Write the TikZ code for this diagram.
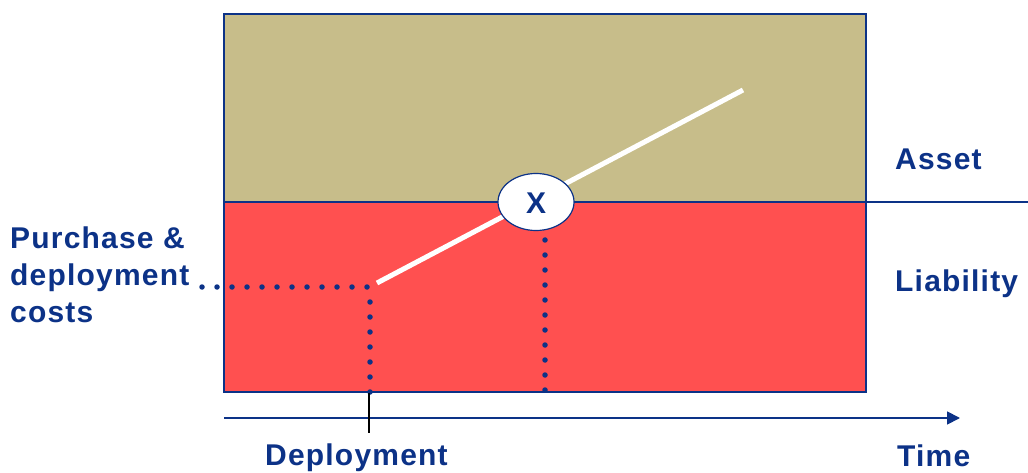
\documentclass[tikz,border=0pt]{standalone}
\usepackage{fontspec}
\setmainfont{Liberation Sans}[LetterSpace=4]
\usetikzlibrary{arrows.meta,shapes.geometric}
\definecolor{navy}{RGB}{12,50,135}
\definecolor{assetc}{RGB}{199,189,138}
\definecolor{liabc}{RGB}{255,80,80}
\tikzset{
  lbl/.style={font=\fontsize{30}{37}\selectfont\bfseries, text=navy, inner sep=0pt},
  box/.style={draw=navy, line width=1.6pt},
  dots/.style={navy, line width=5.5pt, line cap=round, dash pattern=on 0pt off 15pt},
}
\begin{document}
\begin{tikzpicture}[x=1pt,y=-1pt]
\useasboundingbox (0,0) rectangle (1028,473);
% regions
\fill[assetc] (224,14) rectangle (866,202);
\fill[liabc] (224,202) rectangle (866,392);
\draw[box] (224,14) rectangle (866,392);
\coordinate (mL) at (224,202);
\coordinate (mR) at (1028,202);
\draw[box] (mL) -- (mR);
% dotted guides
\coordinate (pL) at (202,287);
\coordinate (pC) at (370,287);
\coordinate (pB) at (370,392);
\draw[dots] (pL) -- (pC);
\draw[dots] (370,302) -- (pB);
% value line
\coordinate (s) at (377,283);
\coordinate (e) at (743,90);
\draw[white, line width=5pt] (s) -- (e);
% X ellipse
\node[draw=navy, fill=white, ellipse, minimum width=76pt, minimum height=57pt, inner sep=0pt, line width=1.2pt] (X) at (536,202) {};
\node[lbl] (Xt) at (536,203) {X};
\coordinate (vT) at (545,240);
\coordinate (vB) at (545,392);
\draw[dots] (vT) -- (vB);
% time axis
\coordinate (a0) at (224,418);
\coordinate (a1) at (960,418);
\draw[navy, line width=1.8pt, -{Triangle[length=13pt,width=13pt]}] (a0) -- (a1);
\coordinate (t0) at (369,393);
\coordinate (t1) at (369,433);
\draw[black, line width=1.2pt] (t0) -- (t1);
% labels
\node[lbl, anchor=base west] (asset) at (895,170) {Asset};
\node[lbl, anchor=base west] (liab) at (895,291) {Liability};
\node[lbl, anchor=base west] (p1) at (10,248) {Purchase \&};
\node[lbl, anchor=base west] (p2) at (10,285) {deployment};
\node[lbl, anchor=base west] (p3) at (10,322) {costs};
\node[lbl, anchor=base west] (dep) at (265,465) {Deployment};
\node[lbl, anchor=base west] (time) at (897,466) {Time};
\end{tikzpicture}
\end{document}
